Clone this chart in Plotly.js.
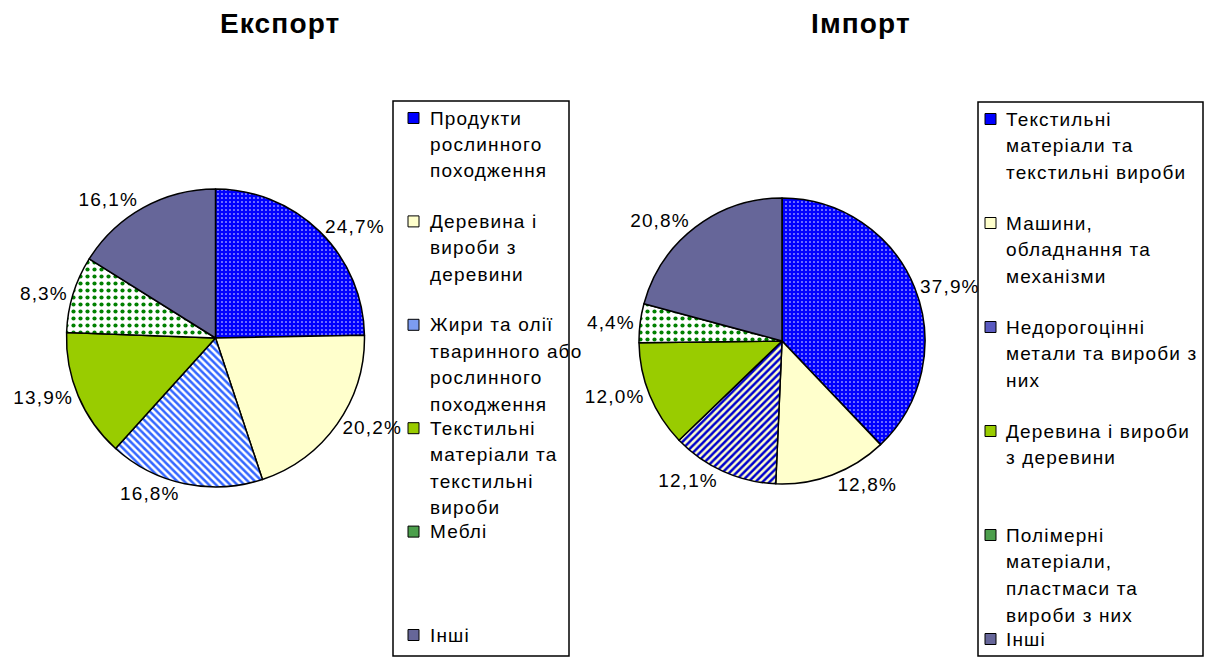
<!DOCTYPE html>
<html>
<head>
<meta charset="utf-8">
<script src="https://cdn.plot.ly/plotly-3.0.1.min.js"></script>
<style>
  html, body { margin: 0; padding: 0; background: #fff; }
  #chart { width: 1207px; height: 659px; }
  svg text { letter-spacing: 1.15px; }
</style>
</head>
<body>
<div id="chart"></div>
<script>
// ---------- data ----------
const exportLabels = [
  "Продукти<br>рослинного<br>походження",
  "Деревина і<br>вироби з<br>деревини",
  "Жири та олії<br>тваринного або<br>рослинного<br>походження",
  "Текстильні<br>матеріали та<br>текстильні<br>вироби",
  "Меблі",
  "Інші"
];
const exportValues = [24.7, 20.2, 16.8, 13.9, 8.3, 16.1];

const importLabels = [
  "Текстильні<br>матеріали та<br>текстильні вироби",
  "Машини,<br>обладнання та<br>механізми",
  "Недорогоцінні<br>метали та вироби з<br>них",
  "Деревина і вироби<br>з деревини",
  "Полімерні<br>матеріали,<br>пластмаси та<br>вироби з них",
  "Інші"
];
const importValues = [37.9, 12.8, 12.1, 12.0, 4.4, 20.8];

const chartTitles = ["Експорт", "Імпорт"];

// ---------- styles ----------
const W = 1207, H = 659;
const FONT = "Liberation Sans, Arial, sans-serif";

const exportStyle = {
  colors:   ["#0000FF", "#FFFFCC", "#FFFFFF", "#99CC00", "#FFFFFF", "#666699"],
  shapes:   [".", "", "\\", "", ".", ""],
  fg:       ["#FFFFFF", "#FFFFCC", "#3366FF", "#99CC00", "#008000", "#666699"],
  bg:       ["#0000FF", "#FFFFCC", "#FFFFFF", "#99CC00", "#FFFFFF", "#666699"],
  size:     [4, 8, 5, 8, 7, 8],
  solidity: [0.12, 0.3, 0.5, 0.3, 0.28, 0.3],
  swatch:   ["#0000FF", "#FFFFCC", "#7C9CF2", "#99CC00", "#4C9F4C", "#666699"]
};
const importStyle = {
  colors:   ["#0000FF", "#FFFFCC", "#FFFFCC", "#99CC00", "#FFFFFF", "#666699"],
  shapes:   [".", "", "/", "", ".", ""],
  fg:       ["#FFFFFF", "#FFFFCC", "#0000CC", "#99CC00", "#008000", "#666699"],
  bg:       ["#0000FF", "#FFFFCC", "#FFFFCC", "#99CC00", "#FFFFFF", "#666699"],
  size:     [4, 8, 5, 8, 7, 8],
  solidity: [0.12, 0.3, 0.5, 0.3, 0.28, 0.3],
  swatch:   ["#0000FF", "#FFFFCC", "#5A5AC0", "#99CC00", "#4C9F4C", "#666699"]
};

function domainFor(cx, cy, r) {
  return { x: [(cx - r) / W, (cx + r) / W], y: [1 - (cy + r) / H, 1 - (cy - r) / H] };
}

function pieTrace(labels, values, st, dom) {
  return {
    type: "pie",
    labels: labels,
    values: values,
    sort: false,
    direction: "clockwise",
    rotation: 0,
    domain: dom,
    textposition: "outside",
    texttemplate: "%{value:.1f}%",
    textfont: { family: FONT, size: 19, color: "#000" },
    hoverinfo: "label+percent",
    showlegend: false,
    marker: {
      colors: st.colors,
      line: { color: "#000", width: 1.5 },
      pattern: {
        shape: st.shapes, fgcolor: st.fg, bgcolor: st.bg,
        size: st.size, solidity: st.solidity, fillmode: "replace"
      }
    }
  };
}

const traces = [
  pieTrace(exportLabels, exportValues, exportStyle, domainFor(215.5, 338, 149)),
  pieTrace(importLabels, importValues, importStyle, domainFor(782, 341, 143))
];

// ---------- legends (boxes, swatches, text) ----------
const shapes = [];
const annotations = [];
const px = x => x / W;
const py = y => 1 - y / H;

function buildLegend(labels, st, box, swX, textX, top, step, lineStep) {
  shapes.push({ type: "rect", xref: "paper", yref: "paper",
    x0: px(box[0]), x1: px(box[1]), y0: py(box[3]), y1: py(box[2]),
    line: { color: "#000", width: 1.5 }, fillcolor: "rgba(0,0,0,0)" });
  labels.forEach((lab, i) => {
    const y0 = top + i * step;
    shapes.push({ type: "rect", xref: "paper", yref: "paper",
      x0: px(swX), x1: px(swX + 11), y0: py(y0 + 5.5), y1: py(y0 - 5.5),
      line: { color: "#000", width: 1 }, fillcolor: st.swatch[i] });
    lab.split("<br>").forEach((line, j) => {
      annotations.push({ xref: "paper", yref: "paper",
        x: px(textX), y: py(y0 + j * lineStep),
        xanchor: "left", yanchor: "middle", showarrow: false,
        text: line, font: { family: FONT, size: 19, color: "#000" } });
    });
  });
}

buildLegend(exportLabels, exportStyle, [393, 569, 101, 656], 408, 428, 118, 103.4, 26.5);
buildLegend(importLabels, importStyle, [978, 1203, 102, 656], 985, 1004, 119, 104, 26.8);

// ---------- titles ----------
annotations.push({ xref: "paper", yref: "paper", x: px(280), y: py(24),
  xanchor: "center", yanchor: "middle", showarrow: false,
  text: "<b>" + chartTitles[0] + "</b>", font: { family: FONT, size: 28, color: "#000" } });
annotations.push({ xref: "paper", yref: "paper", x: px(861), y: py(24),
  xanchor: "center", yanchor: "middle", showarrow: false,
  text: "<b>" + chartTitles[1] + "</b>", font: { family: FONT, size: 28, color: "#000" } });

const layout = {
  width: W, height: H,
  margin: { l: 0, r: 0, t: 0, b: 0 },
  paper_bgcolor: "#FFFFFF",
  plot_bgcolor: "#FFFFFF",
  separators: ", ",
  showlegend: false,
  shapes: shapes,
  annotations: annotations,
  font: { family: FONT }
};

Plotly.newPlot("chart", traces, layout, { displayModeBar: false, staticPlot: true });
</script>
</body>
</html>
